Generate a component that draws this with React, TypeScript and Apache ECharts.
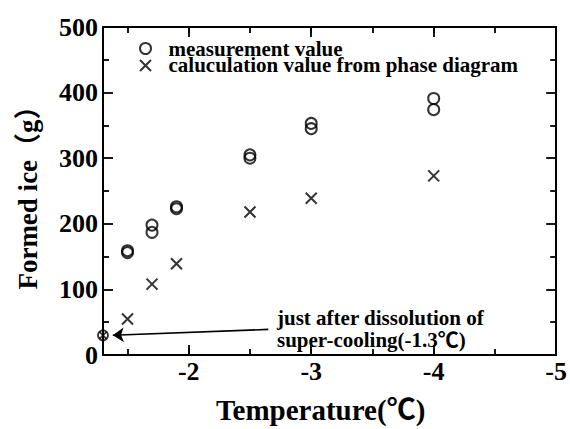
import React, { useEffect, useRef } from 'react';
import * as echarts from 'echarts';

// Measured formed ice (two runs per temperature)
const measTemp = [-1.5, -1.5, -1.7, -1.7, -1.9, -1.9, -2.5, -2.5, -3, -3, -4, -4];
const measIce = [156, 159, 187, 198, 223, 226, 300, 305, 345, 353, 374, 391];
// Calculated from phase diagram
const calcTemp = [-1.5, -1.7, -1.9, -2.5, -3, -4];
const calcIce = [55, 108, 139, 218, 239, 273];
// Just after dissolution of super-cooling
const superTemp = [-1.3];
const superIce = [30];
// Tick labels
const xTickLabels = [-2, -3, -4, -5];
const yTickLabels = [0, 100, 200, 300, 400, 500];
// Annotation arrow (data coords)
const arrowFrom = [-2.65, 39];
const arrowTo = [-1.38, 30];

const SERIF = '"Liberation Serif", "Noto Sans CJK JP", "Times New Roman", serif';
const CROSS = 'path://M0,0L10,10M10,0L0,10';
const BLACK = '#000';

const axisLineStyle = () => ({ show: true, onZero: false, lineStyle: { color: BLACK, width: 2 } });
const tick = (len: number) => ({ show: true, inside: true, length: len, lineStyle: { color: BLACK, width: 1.8 } });

function xAxisDef(position: 'top' | 'bottom', interval: number, tickLen: number, showLine: boolean) {
  return {
    type: 'value',
    position,
    min: -5,
    max: -1.3,
    interval,
    inverse: true,
    splitLine: { show: false },
    axisLine: showLine ? axisLineStyle() : { show: false, onZero: false },
    axisTick: tick(tickLen),
    axisLabel: { show: false },
  } as any;
}

function yAxisDef(position: 'left' | 'right') {
  return {
    type: 'value',
    position,
    min: 0,
    max: 500,
    interval: 100,
    splitLine: { show: false },
    axisLine: axisLineStyle(),
    axisTick: tick(10),
    minorTick: { show: true, splitNumber: 2, length: 6, lineStyle: { color: BLACK, width: 1.8 } },
    axisLabel: { show: false },
  } as any;
}

export default function App() {
  const ref = useRef<HTMLDivElement>(null);
  useEffect(() => {
    if (!ref.current) return;
    const chart = echarts.init(ref.current, undefined, { renderer: 'svg' });
    const mkData = (xs: number[], ys: number[]) => xs.map((x, i) => [x, ys[i]]);

    const xMain = xAxisDef('bottom', 1, 10, true);
    xMain.axisLabel = {
      show: true,
      margin: 3,
      color: BLACK,
      fontFamily: SERIF,
      fontWeight: 'bold',
      fontSize: 26,
      formatter: (v: number) => (xTickLabels.includes(v) ? String(v) : ''),
    };
    xMain.name = 'Temperature(℃)';
    xMain.nameLocation = 'middle';
    xMain.nameGap = 40;
    xMain.nameTextStyle = { color: BLACK, fontFamily: SERIF, fontWeight: 'bold', fontSize: 29, padding: [0, 18, 0, 0] };

    const yMain = yAxisDef('left');
    yMain.axisLabel = {
      show: true,
      margin: 5,
      color: BLACK,
      fontFamily: SERIF,
      fontWeight: 'bold',
      fontSize: 26,
      formatter: (v: number) => (yTickLabels.includes(v) ? String(v) : ''),
    };
    yMain.name = 'Formed ice（g）';
    yMain.nameLocation = 'middle';
    yMain.nameGap = 62;
    yMain.nameTextStyle = { color: BLACK, fontFamily: SERIF, fontWeight: 'bold', fontSize: 27 };

    chart.setOption({
      animation: false,
      grid: { left: 103, right: 9, top: 27, bottom: 72 },
      legend: {
        orient: 'vertical',
        left: 134,
        top: 33,
        itemWidth: 36,
        itemHeight: 11,
        itemGap: -4,
        selectedMode: false,
        textStyle: { color: BLACK, fontFamily: SERIF, fontWeight: 'bold', fontSize: 21, lineHeight: 20 },
        data: [
          { name: 'measurement value', icon: 'circle', itemStyle: { color: 'rgba(0,0,0,0)', borderColor: BLACK, borderWidth: 2 } },
          { name: 'caluculation value from phase diagram', icon: CROSS, itemStyle: { color: 'rgba(0,0,0,0)', borderColor: BLACK, borderWidth: 2 } },
        ],
      },
      xAxis: [
        xMain,
        xAxisDef('bottom', 0.5, 6, false),
        xAxisDef('top', 1, 10, true),
        xAxisDef('top', 0.5, 6, false),
      ],
      yAxis: [yMain, yAxisDef('right')],
      series: [
        {
          name: 'measurement value',
          type: 'scatter',
          xAxisIndex: 0,
          yAxisIndex: 0,
          symbol: 'circle',
          symbolSize: 11,
          itemStyle: { color: 'rgba(0,0,0,0)', borderColor: BLACK, borderWidth: 2 },
          data: mkData(measTemp, measIce),
          z: 5,
        },
        {
          name: 'caluculation value from phase diagram',
          type: 'scatter',
          xAxisIndex: 0,
          yAxisIndex: 0,
          symbol: CROSS,
          symbolSize: 11,
          itemStyle: { color: 'rgba(0,0,0,0)', borderColor: BLACK, borderWidth: 2 },
          data: mkData(calcTemp, calcIce),
          z: 5,
        },
        {
          name: 'super-cooling circle',
          type: 'scatter',
          xAxisIndex: 0,
          yAxisIndex: 0,
          clip: false,
          symbol: 'circle',
          symbolSize: 10,
          itemStyle: { color: 'rgba(0,0,0,0)', borderColor: BLACK, borderWidth: 1.8 },
          data: mkData(superTemp, superIce),
          z: 6,
          markLine: {
            silent: true,
            symbol: ['none', 'arrow'],
            symbolSize: 11,
            label: { show: false },
            lineStyle: { color: BLACK, width: 1.6, type: 'solid' },
            itemStyle: { color: BLACK },
            data: [[{ coord: arrowFrom }, { coord: arrowTo }]],
          },
        },
        {
          name: 'super-cooling cross',
          type: 'scatter',
          xAxisIndex: 0,
          yAxisIndex: 0,
          clip: false,
          symbol: CROSS,
          symbolSize: 7,
          itemStyle: { color: 'rgba(0,0,0,0)', borderColor: BLACK, borderWidth: 1.6 },
          data: mkData(superTemp, superIce),
          z: 7,
        },
      ],
      graphic: [
        {
          type: 'text',
          left: 277,
          top: 307,
          style: {
            text: 'just after dissolution of\nsuper-cooling(-1.3℃)',
            fill: BLACK,
            font: `bold 21px ${SERIF}`,
            lineHeight: 22,
          },
        },
      ],
    });
    return () => chart.dispose();
  }, []);
  return <div ref={ref} style={{ width: 570, height: 429, position: 'absolute', left: 0, top: 0 }} />;
}
